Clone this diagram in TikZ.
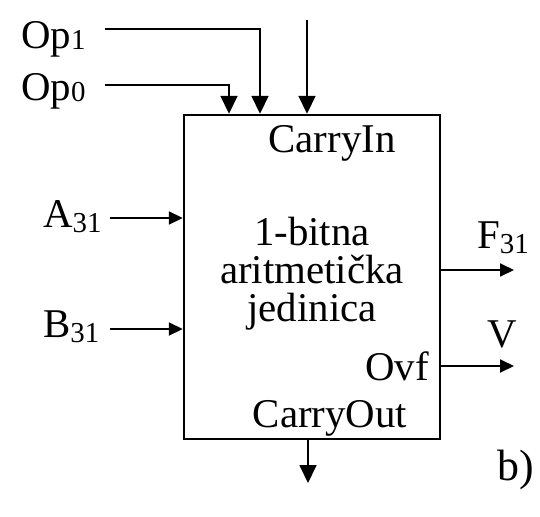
\documentclass[tikz,border=0pt]{standalone}
\usepackage{fontspec}
\setmainfont{Liberation Serif}
\usetikzlibrary{arrows.meta}

% lowered small index, e.g. A\lowidx{31}
\newcommand{\lowidx}[2][5bp]{\raisebox{-#1}{\fontsize{29}{29}\selectfont #2}}

\begin{document}
\begin{tikzpicture}[
    x=1bp, y=-1bp,
    blk/.style={rectangle, draw, line width=2.4bp, minimum width=256bp, minimum height=324bp},
    lbl/.style={inner sep=0pt, font=\fontsize{41}{38}\selectfont},
    arrow/.style={-{Triangle[length=18bp, width=17bp]}, line width=1.8bp},
    sarrow/.style={-{Triangle[length=14bp, width=13bp]}, line width=1.8bp}
]
    \useasboundingbox (0,0) rectangle (540,517);

    % --- The block ---
    \node[blk] (alu) at (312,277) {};

    % --- Texts inside the block ---
    \node[lbl, anchor=base] (cin) at (332,153) {CarryIn};
    % base of a multi-line node = baseline of its last line
    \node[lbl, anchor=base, align=center] (name) at (312,321) {1-bitna\\aritmetička\\jedinica};
    \node[lbl, anchor=base east] (ovf) at (429,380) {Ovf};
    \node[lbl, anchor=base] (cout) at (330,427) {CarryOut};

    % --- Signal names outside ---
    \node[lbl, anchor=base west] (op1) at (21,49) {Op\lowidx[1bp]{1}};
    \node[lbl, anchor=base west] (op0) at (21,101) {Op\lowidx[1bp]{0}};
    \node[lbl, anchor=base west] (a31) at (43,227) {A\lowidx{31}};
    \node[lbl, anchor=base west] (b31) at (43,337) {B\lowidx{31}};
    \node[lbl, anchor=base west] (f31) at (477,248) {F\lowidx{31}};
    \node[lbl, anchor=base west] (v) at (487,347) {V};
    \node[lbl, anchor=base west, font=\fontsize{44}{44}\selectfont] (fig) at (497,480) {b)};

    % --- Free ends of the wires ---
    \coordinate (op1s) at (105,29);
    \coordinate (op0s) at (105,85);
    \coordinate (cins) at (307,20);
    \coordinate (a31s) at (110,218);
    \coordinate (b31s) at (110,329);
    \coordinate (f31e) at (514,270);
    \coordinate (ve) at (514,366);
    \coordinate (coute) at (308,483);

    % --- Inputs ---
    \draw[arrow] (op1s) -| (260,0 |- alu.north);
    \draw[arrow] (op0s) -| (229,0 |- alu.north);
    \draw[arrow] (cins) -- (cins |- alu.north);
    \draw[sarrow] (a31s) -- (a31s -| alu.west);
    \draw[sarrow] (b31s) -- (b31s -| alu.west);

    % --- Outputs ---
    \draw[sarrow] (f31e -| alu.east) -- (f31e);
    \draw[sarrow] (ve -| alu.east) -- (ve);
    \draw[arrow] (coute |- alu.south) -- (coute);
\end{tikzpicture}
\end{document}
